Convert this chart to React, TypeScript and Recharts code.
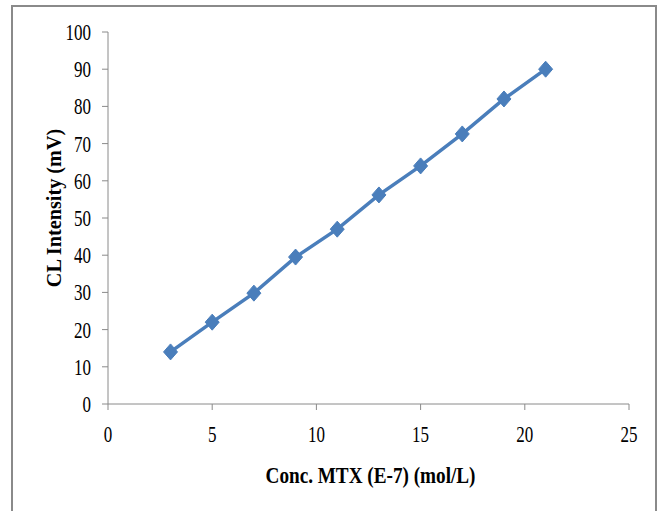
import React from 'react';
import { LineChart, Line, XAxis, YAxis, Label } from 'recharts';

// concentrations (E-7 mol/L) and measured CL intensity (mV)
const concValues = [3, 5, 7, 9, 11, 13, 15, 17, 19, 21];
const intensityValues = [14, 22, 29.8, 39.5, 47, 56.2, 64, 72.6, 82, 90];

const xTicks = [0, 5, 10, 15, 20, 25];
const yTicks = [0, 10, 20, 30, 40, 50, 60, 70, 80, 90, 100];

const xTitle = 'Conc. MTX (E-7) (mol/L)';
const yTitle = 'CL Intensity (mV)';

const data = concValues.map((c, i) => ({ conc: c, intensity: intensityValues[i] }));

const FONT = '"Liberation Serif", "Times New Roman", serif';
const AXIS_GRAY = '#8a8a8a';
const BLUE = '#4a7ebb';

// Excel style text is a bit narrow, so squeeze it horizontally
const YTick = (props: any) => {
  const { x, y, payload } = props;
  return (
    <text
      transform={`translate(${x},${y}) scale(0.74,1)`}
      textAnchor="end"
      dy="0.35em"
      fontSize={23}
      fontFamily={FONT}
      fill="#000"
    >
      {payload.value}
    </text>
  );
};

const XTick = (props: any) => {
  const { x, y, payload } = props;
  return (
    <text
      transform={`translate(${x},${y}) scale(0.74,1)`}
      textAnchor="middle"
      dy="0.71em"
      fontSize={23}
      fontFamily={FONT}
      fill="#000"
    >
      {payload.value}
    </text>
  );
};

const Diamond = (props: any) => {
  const { cx, cy } = props;
  if (cx == null || cy == null) return null;
  const w = 7;
  const h = 8;
  return (
    <polygon
      points={`${cx},${cy - h} ${cx + w},${cy} ${cx},${cy + h} ${cx - w},${cy}`}
      fill={BLUE}
      stroke={BLUE}
      strokeWidth={1}
    />
  );
};

const App = () => {
  return (
    <div
      style={{
        position: 'absolute',
        left: 0,
        top: 0,
        width: 659,
        height: 511,
        overflow: 'hidden',
        background: '#fff',
      }}
    >
      {/* outer frame of the figure */}
      <div
        style={{
          position: 'absolute',
          left: 11,
          top: 5,
          width: 642,
          height: 540,
          border: '2px solid #8a8a8a',
        }}
      />
      <div style={{ position: 'absolute', left: 0, top: 0 }}>
        <LineChart
          width={659}
          height={511}
          data={data}
          margin={{ top: 32, right: 30, bottom: 0, left: 48 }}
        >
          <XAxis
            dataKey="conc"
            type="number"
            domain={[0, 25]}
            ticks={xTicks}
            height={107}
            stroke={AXIS_GRAY}
            tickSize={6}
            tickMargin={16}
            tick={<XTick />}
            interval={0}
          >
            <Label
              content={(p: any) => {
                const vb = p.viewBox;
                return (
                  <text
                    transform={`translate(${vb.x + vb.width / 2 + 2},${vb.y + 79}) scale(0.8,1)`}
                    textAnchor="middle"
                    fontSize={24}
                    fontWeight="bold"
                    fontFamily={FONT}
                    fill="#000"
                  >
                    {xTitle}
                  </text>
                );
              }}
            />
          </XAxis>
          <YAxis
            dataKey="intensity"
            type="number"
            domain={[0, 100]}
            ticks={yTicks}
            width={60}
            stroke={AXIS_GRAY}
            tickSize={6}
            tickMargin={11}
            tick={<YTick />}
            interval={0}
          >
            <Label
              content={(p: any) => {
                const vb = p.viewBox;
                const cx = 53;
                const cy = vb.y + vb.height / 2 - 10;
                return (
                  <text
                    transform={`translate(${cx},${cy}) rotate(-90) scale(0.92,1)`}
                    textAnchor="middle"
                    dy="0.35em"
                    fontSize={22}
                    fontWeight="bold"
                    fontFamily={FONT}
                    fill="#000"
                  >
                    {yTitle}
                  </text>
                );
              }}
            />
          </YAxis>
          <Line
            type="linear"
            dataKey="intensity"
            stroke={BLUE}
            strokeWidth={3.5}
            dot={<Diamond />}
            activeDot={false}
            isAnimationActive={false}
          />
        </LineChart>
      </div>
    </div>
  );
};

export default App;
